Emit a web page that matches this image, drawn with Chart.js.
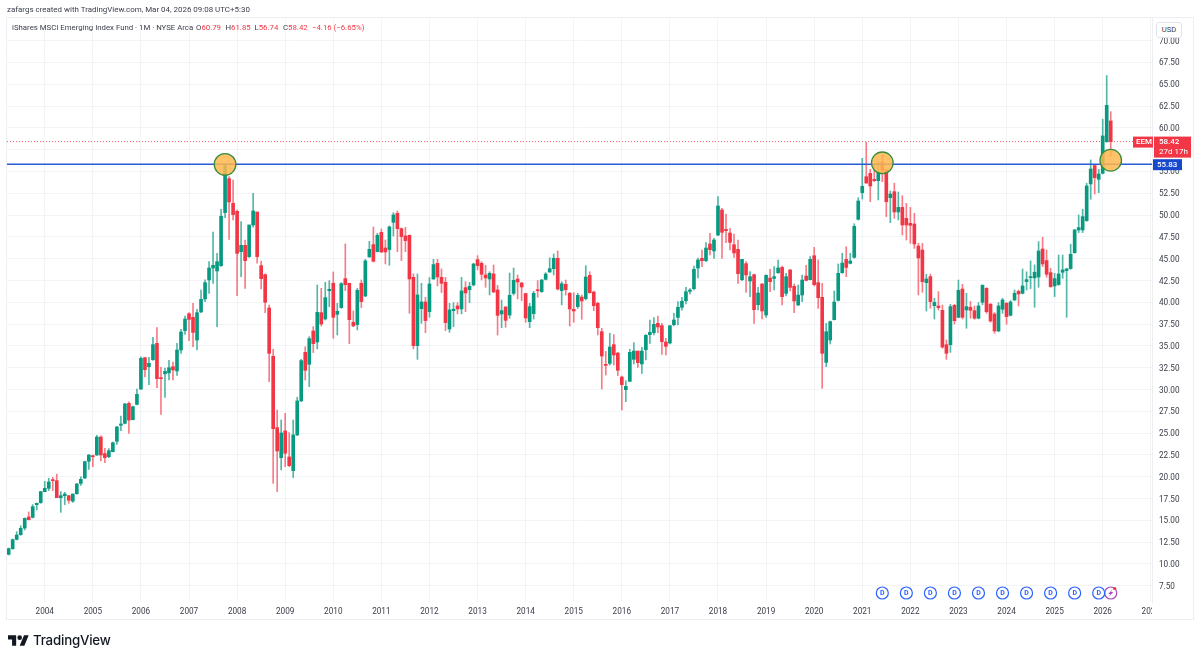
<!DOCTYPE html>
<html>
<head>
<meta charset="utf-8">
<title>EEM monthly</title>
<script src="https://cdn.jsdelivr.net/npm/chart.js@4"></script>
<style>
    html, body { margin: 0; padding: 0; background: #fff; }
    body { width: 1200px; height: 659px; position: relative; overflow: hidden; font-family: Roboto, sans-serif; color: #131722; }
    canvas { position: absolute; left: 0; top: 0; }
    .txt { position: absolute; white-space: nowrap; }
    #credit { left: 7px; top: 4px; font-size: 7.95px; line-height: 11px; color: #3a3e49; }
    #legend span { position: absolute; top: 22px; font-size: 7.8px; line-height: 11px; white-space: nowrap; color: #3a3e49; }
    #legend b { font-weight: 400; color: #f23645; }
    #frame { position: absolute; left: 6px; top: 17px; width: 1186px; height: 601px; border: 1px solid #eceef2; }
    #axisClip { position: absolute; left: 1152px; top: 603px; width: 39px; height: 15px; background: #fff; }
    #usd { position: absolute; left: 1156px; top: 22px; width: 24px; height: 14px; line-height: 14px; border: 1px solid #e0e3eb; border-radius: 3px; font-size: 7.6px; text-align: center; background: #fff; color: #3a3e49; }
    #logo { position: absolute; left: 8px; top: 633px; width: 21px; height: 14px; }
    #brand { left: 33px; top: 630px; font-family: Inter, sans-serif; font-size: 13.3px; line-height: 20px; font-weight: 500; color: #131722; letter-spacing: -0.2px; }
</style>
</head>
<body>
<div id="frame"></div>
<canvas id="chart" width="1200" height="659"></canvas>
<div id="axisClip"></div>
<div id="usd">USD</div>
<div id="credit" class="txt">zafargs created with TradingView.com, Mar 04, 2026 09:08 UTC+5:30</div>
<div id="legend">
    <span style="left:12px">iShares MSCI Emerging Index Fund · 1M · NYSE Arca</span>
    <span style="left:196px">O<b>60.79</b></span>
    <span style="left:225.5px">H<b>61.85</b></span>
    <span style="left:254.5px">L<b>56.74</b></span>
    <span style="left:283px">C<b>58.42</b></span>
    <span style="left:312px"><b>−4.16 (−6.65%)</b></span>
</div>
<svg id="logo" viewBox="0 0 36 24"><path fill="#131722" d="M14 22H7V11H0V4h14v18zM28 22h-8l7.5-18h8L28 22z"/><circle fill="#131722" cx="20" cy="8" r="4"/></svg>
<div id="brand" class="txt">TradingView</div>

<script>
// monthly candles, Apr 2003 to Mar 2026, one row per calendar year
const opens = [
    11.10,11.76,12.82,13.36,14.12,15.39,15.35,16.80,17.03,
    18.29,18.67,19.60,19.55,17.60,17.83,17.83,17.20,18.06,19.24,19.86,21.77,
    22.41,22.49,24.55,22.65,22.30,22.87,24.06,25.90,26.12,28.41,26.54,28.30,
    30.06,33.65,32.62,33.42,35.29,31.35,31.80,31.90,32.62,32.12,34.53,36.74,
    38.69,38.27,35.67,38.89,40.38,42.56,43.93,43.59,44.20,50.28,54.17,51.35,
    50.43,45.80,46.53,45.23,48.86,50.35,44.20,43.17,39.35,33.81,25.63,22.19,
    25.25,22.27,20.70,24.79,28.69,34.26,32.89,36.71,35.45,38.81,38.09,41.33,
    42.18,38.62,39.39,42.71,42.18,37.71,37.44,42.18,40.72,45.20,46.61,45.81,
    48.02,46.23,46.04,49.17,50.20,48.44,47.60,47.68,42.86,35.03,39.27,40.04,
    38.93,42.67,44.47,42.86,42.29,36.94,39.04,39.58,39.24,41.68,41.45,41.99,
    44.89,44.47,43.13,42.67,43.25,41.41,38.66,39.46,38.54,41.02,42.67,42.21,
    41.00,37.78,38.70,41.41,41.22,42.63,43.47,43.85,45.04,41.33,42.06,41.03,
    39.19,39.50,40.60,40.42,43.09,41.18,39.88,36.63,32.85,32.99,35.14,34.18,
    31.43,29.98,30.94,33.46,34.41,32.93,34.57,36.29,36.52,37.59,37.32,35.45,
    35.33,37.43,38.27,39.42,40.18,41.25,41.56,43.93,45.04,44.77,46.68,45.88,
    47.71,50.58,48.36,47.94,46.60,46.07,42.59,44.43,42.44,43.16,39.72,42.09,
    38.54,42.78,42.74,43.39,44.00,41.02,43.70,41.83,39.69,40.83,43.01,42.59,
    45.34,42.25,40.57,33.11,35.67,38.01,40.22,43.39,44.92,44.46,45.15,49.51,
    52.57,54.40,54.78,54.09,53.94,56.08,55.16,51.99,52.68,50.35,50.88,49.62,
    49.05,48.97,46.45,45.99,42.25,42.94,39.61,39.57,39.08,35.14,35.14,39.65,
    38.27,41.52,39.12,39.43,39.04,38.17,40.00,41.60,39.77,38.66,36.71,39.20,
    39.88,38.51,40.27,41.26,41.03,42.37,42.83,42.79,42.90,46.11,44.78,43.40,
    41.87,42.03,43.44,43.63,43.86,45.69,48.29,48.29,49.36,53.57,55.67,54.10,
    54.79,58.42,60.79
];
const highs = [
    11.83,12.86,13.70,14.39,15.27,15.96,16.80,17.00,18.33,
    19.47,19.82,19.93,20.30,18.29,18.21,17.83,18.02,19.24,20.00,21.80,22.53,
    22.49,24.75,24.70,23.26,23.22,23.98,25.78,26.96,28.41,28.60,28.10,30.06,
    33.76,33.69,33.69,35.98,37.09,32.54,32.46,33.34,33.15,35.29,36.90,38.43,
    38.81,39.88,39.19,41.41,42.56,44.66,48.06,45.60,50.66,55.93,54.40,54.00,
    50.58,49.24,47.14,48.86,52.49,50.35,44.73,43.25,39.69,34.61,27.65,26.51,
    27.27,25.06,26.51,29.11,33.46,34.90,36.06,37.21,41.99,41.60,42.29,42.48,
    43.48,39.88,42.25,46.69,42.18,39.00,41.60,42.56,44.93,46.99,48.63,47.91,
    48.40,47.15,48.75,50.28,50.47,48.52,48.60,47.72,43.25,43.25,42.18,40.57,
    42.83,44.93,44.93,43.82,42.86,39.88,39.96,39.96,42.86,42.37,42.29,44.47,
    45.35,44.66,44.24,43.51,44.28,41.95,40.26,39.50,43.36,43.93,43.13,42.29,
    41.03,39.88,41.26,42.48,42.63,43.40,45.10,45.54,45.88,42.36,42.55,41.14,
    41.10,41.03,40.83,44.20,43.50,41.29,40.00,37.01,34.37,36.44,36.29,34.26,
    31.55,31.01,34.61,35.37,34.41,34.84,36.29,37.97,38.24,38.43,37.59,35.87,
    37.32,38.73,40.07,40.57,41.71,41.56,44.16,45.07,45.99,46.83,47.90,47.33,
    52.11,50.77,50.12,48.48,47.83,47.14,44.92,44.66,43.51,43.24,41.71,42.17,
    43.16,43.78,44.08,44.85,44.16,43.32,43.78,42.09,41.98,43.13,44.23,45.23,
    46.30,44.85,42.17,37.58,37.85,41.29,44.39,45.61,46.37,45.61,49.00,51.99,
    56.50,58.34,55.24,55.93,56.08,56.88,55.24,52.76,53.64,52.64,52.22,51.34,
    50.88,50.20,46.76,46.76,43.20,43.24,40.45,41.22,39.69,35.68,39.76,39.76,
    42.55,42.06,41.03,40.08,39.58,39.96,42.00,41.68,39.88,38.81,39.96,40.46,
    39.99,40.19,41.41,41.41,43.82,43.50,44.74,44.28,46.95,47.45,46.00,43.90,
    43.33,45.42,45.42,43.90,46.65,48.37,50.01,50.66,53.64,56.32,55.74,55.25,
    60.98,65.98,61.85
];
const lows = [
    11.03,11.68,12.75,13.28,13.90,15.04,15.27,16.19,16.95,
    18.29,18.40,18.40,17.60,15.92,16.80,16.95,17.06,17.98,19.00,19.78,20.85,
    21.15,22.45,21.80,21.61,22.19,22.84,23.71,25.28,26.05,24.98,26.50,28.22,
    29.98,31.43,30.55,33.34,30.21,27.15,29.10,31.09,31.09,31.62,34.15,36.32,
    35.60,34.91,34.53,38.81,40.07,41.03,42.17,37.21,44.12,49.70,47.20,49.44,
    40.76,42.94,41.60,45.15,48.60,44.47,41.53,38.81,30.90,19.25,18.30,20.78,
    21.16,21.16,19.90,24.71,28.61,31.09,30.33,34.23,34.65,37.28,37.97,39.50,
    35.87,36.25,39.31,41.34,35.26,37.21,36.83,39.39,40.65,45.16,44.62,45.77,
    45.69,44.39,44.24,47.60,45.80,44.78,45.80,38.74,34.65,33.46,37.59,36.52,
    38.28,42.64,41.87,41.11,36.75,36.56,37.21,38.66,38.66,38.93,39.96,41.87,
    43.71,42.56,41.72,40.84,41.11,36.25,37.09,37.13,38.16,40.83,40.38,40.19,
    37.70,37.09,38.08,40.57,41.14,42.55,43.43,43.13,41.41,39.69,40.83,37.28,
    37.70,39.30,38.05,40.26,41.03,39.04,36.25,30.06,31.66,32.81,32.81,31.59,
    27.65,28.61,30.90,32.93,32.54,31.85,33.38,35.29,36.25,36.52,34.03,33.96,
    35.22,37.32,37.40,39.10,39.80,40.95,41.41,42.78,44.08,44.65,45.42,45.04,
    47.64,45.04,46.83,45.99,45.15,42.17,42.48,41.14,40.64,37.59,39.11,38.08,
    38.27,41.21,41.41,43.32,39.69,40.72,41.29,38.81,39.61,40.07,42.44,42.55,
    41.87,39.30,30.13,32.62,35.22,37.97,40.14,43.32,42.93,44.39,45.04,49.43,
    51.84,53.64,51.53,53.83,51.73,53.83,49.82,49.13,49.62,49.43,47.71,47.14,
    46.76,46.18,40.84,41.14,39.00,39.31,38.08,39.11,34.72,33.46,34.26,37.51,
    38.24,38.08,37.02,38.17,38.05,38.09,39.70,38.74,37.71,36.45,36.64,38.74,
    37.48,38.43,40.19,39.58,40.96,41.41,41.57,39.43,41.72,44.09,42.87,41.72,
    40.65,41.95,42.75,38.28,43.78,45.62,47.99,47.99,49.28,51.81,52.42,52.57,
    54.71,58.34,56.74
];
const closes = [
    11.76,12.79,13.32,14.09,15.23,15.08,16.57,16.95,18.29,
    18.67,19.40,19.55,17.60,17.83,18.02,17.30,18.02,19.17,19.70,21.73,22.49,
    22.30,24.55,22.49,22.19,22.99,23.90,25.70,26.05,28.34,26.50,28.03,29.45,
    33.57,32.27,33.00,35.14,31.24,31.24,32.08,32.50,32.24,34.53,36.59,38.08,
    38.04,36.55,38.81,40.34,42.25,43.93,44.24,44.66,49.86,55.66,51.50,50.05,
    45.61,46.53,44.77,48.86,50.47,45.23,42.71,40.00,34.15,25.51,22.95,25.02,
    22.69,21.27,24.79,28.69,33.31,32.20,35.83,35.26,38.85,37.51,40.53,41.49,
    38.28,38.97,42.14,42.02,38.01,37.29,41.37,40.08,44.74,46.07,44.70,47.68,
    45.77,45.77,48.64,50.01,48.44,47.53,47.07,42.67,35.03,40.84,40.04,37.90,
    42.10,44.32,42.90,42.18,37.67,39.12,39.20,39.24,41.30,41.07,41.83,44.39,
    44.20,43.21,42.79,43.32,41.18,38.50,39.04,37.93,40.80,42.52,42.33,41.75,
    38.20,39.50,41.03,41.33,42.55,43.24,43.85,45.04,41.52,42.13,41.45,39.23,
    39.00,40.80,40.15,42.90,41.10,39.61,37.09,33.84,32.77,34.87,33.96,32.20,
    30.56,30.36,34.26,34.41,33.08,34.41,36.21,36.56,37.47,37.17,35.49,34.95,
    37.32,37.97,39.42,40.11,41.21,41.41,43.78,44.85,44.77,46.22,46.03,47.14,
    51.04,48.02,48.21,46.87,45.65,43.28,44.92,43.13,42.94,39.15,41.06,39.00,
    43.09,42.36,42.94,43.93,40.64,42.94,41.71,40.15,40.83,42.55,42.51,44.92,
    42.02,40.53,34.15,36.63,37.78,40.03,43.32,44.50,44.00,44.73,48.71,51.61,
    53.29,53.67,53.33,53.94,54.90,55.16,51.53,52.41,50.35,50.88,48.86,48.86,
    48.82,46.68,45.08,42.36,42.67,40.07,39.99,39.38,34.87,34.15,39.50,37.89,
    41.37,38.28,39.50,39.08,38.17,39.58,41.95,38.93,37.86,36.71,39.58,40.27,
    38.36,40.04,41.03,40.96,41.87,42.60,42.94,43.44,45.88,44.39,43.21,41.80,
    42.71,43.25,43.71,43.82,45.50,48.29,48.56,49.82,53.34,55.28,54.29,54.71,
    59.07,62.58,58.42
];

// x axis: months counted from the first candle
const yearLabels = ['2004','2005','2006','2007','2008','2009','2010','2011','2012','2013','2014','2015',
    '2016','2017','2018','2019','2020','2021','2022','2023','2024','2025','2026','2027'];
const yearMonths = [9,21,33,45,57,69,81,93,105,117,129,141,153,165,177,189,201,213,225,237,249,261,273,285];

// y axis
const priceTicks = [7.5,10,12.5,15,17.5,20,22.5,25,27.5,30,32.5,35,37.5,40,42.5,45,47.5,50,52.5,55,57.5,60,62.5,65,67.5,70];

// drawn levels and markers
const supportLevel = 55.83;
const lastPrice = 58.42;
const circleMonths = [54, 218, 275];
const circleValues = [55.80, 55.99, 56.28];
const dividendMonths = [218,224,230,236,242,248,254,260,266,272];
const eventMonths = [275];
const iconValue = 6.67;

const xMin = -0.42;
const xMax = 285.3;
const green = '#089981';
const red = '#f23645';

const isUp = (i) => closes[i] >= opens[i];
const hline = (value) => [{ x: xMin, y: value }, { x: xMax, y: value }];

const overlays = {
    id: 'overlays',
    afterDatasetsDraw(chart) {
        const { ctx, scales } = chart;

        // letters inside the dividend icons
        ctx.save();
        ctx.font = '700 7px Roboto';
        ctx.fillStyle = '#2962ff';
        ctx.textAlign = 'center';
        ctx.textBaseline = 'middle';
        const iconY = scales.y.getPixelForValue(iconValue);
        dividendMonths.forEach((m) => {
            ctx.fillText('D', scales.x.getPixelForValue(m), iconY + 0.5);
        });

        // earnings bolt and red dot
        const bx = scales.x.getPixelForValue(eventMonths[0]);
        ctx.fillStyle = '#ab47bc';
        ctx.beginPath();
        ctx.moveTo(bx + 2, iconY - 4);
        ctx.lineTo(bx - 2.5, iconY + 1);
        ctx.lineTo(bx - 0.3, iconY + 1);
        ctx.lineTo(bx - 2, iconY + 4);
        ctx.lineTo(bx + 2.5, iconY - 1);
        ctx.lineTo(bx + 0.3, iconY - 1);
        ctx.closePath();
        ctx.fill();
        ctx.fillStyle = red;
        ctx.beginPath();
        ctx.arc(bx + 4, iconY - 4.5, 1.6, 0, Math.PI * 2);
        ctx.fill();
        ctx.restore();
    },
    afterDraw(chart) {
        const { ctx, scales } = chart;
        const lastY = scales.y.getPixelForValue(lastPrice);
        const supY = scales.y.getPixelForValue(supportLevel);
        ctx.save();
        ctx.textBaseline = 'middle';
        ctx.textAlign = 'left';

        ctx.fillStyle = red;
        ctx.fillRect(1133, lastY - 5, 20, 11);
        ctx.fillRect(1154, lastY - 5, 37, 21);
        ctx.fillStyle = '#fff';
        ctx.font = '500 8px Roboto';
        ctx.fillText('EEM', 1136, lastY + 0.5);
        ctx.fillText('58.42', 1159, lastY + 0.5);
        ctx.font = '400 8px Roboto';
        ctx.fillText('27d 17h', 1159, lastY + 10);

        ctx.fillStyle = '#1848cc';
        ctx.fillRect(1153, supY - 5, 29, 11);
        ctx.fillStyle = '#fff';
        ctx.font = '500 8px Roboto';
        ctx.fillText('55.83', 1157, supY + 0.5);
        ctx.restore();
    }
};

new Chart(document.getElementById('chart'), {
    data: {
        datasets: [
            {
                type: 'line',
                data: hline(lastPrice),
                borderColor: 'rgba(242,54,69,0.8)',
                borderWidth: 1,
                borderDash: [1, 2],
                pointRadius: 0,
                order: 5
            },
            {
                type: 'bar',
                data: highs.map((h, i) => ({ x: i, y: [lows[i], h] })),
                backgroundColor: (c) => isUp(c.dataIndex) ? 'rgba(8,153,129,0.7)' : 'rgba(242,54,69,0.65)',
                barThickness: 1,
                grouped: false,
                order: 4
            },
            {
                type: 'bar',
                data: opens.map((o, i) => ({ x: i, y: [o, closes[i]] })),
                backgroundColor: (c) => isUp(c.dataIndex) ? green : red,
                barThickness: 3,
                minBarLength: 1,
                grouped: false,
                order: 3
            },
            {
                type: 'line',
                data: hline(supportLevel),
                borderColor: '#2a5bd7',
                borderWidth: 1.6,
                pointRadius: 0,
                order: 2
            },
            {
                type: 'line',
                data: circleMonths.map((m, i) => ({ x: m, y: circleValues[i] })),
                showLine: false,
                pointRadius: 10.8,
                pointBackgroundColor: 'rgba(255,183,77,0.85)',
                pointBorderColor: '#388e3c',
                pointBorderWidth: 1.3,
                order: 1
            },
            {
                type: 'line',
                data: dividendMonths.map((m) => ({ x: m, y: iconValue })),
                showLine: false,
                pointRadius: 6,
                pointBackgroundColor: '#fff',
                pointBorderColor: '#2962ff',
                pointBorderWidth: 1.2,
                order: 1
            },
            {
                type: 'line',
                data: eventMonths.map((m) => ({ x: m, y: iconValue })),
                showLine: false,
                pointRadius: 6,
                pointBackgroundColor: '#fff',
                pointBorderColor: '#ab47bc',
                pointBorderWidth: 1.2,
                order: 1
            }
        ]
    },
    options: {
        responsive: false,
        animation: false,
        events: [],
        layout: { autoPadding: false, padding: { left: 7, top: 18, right: 0, bottom: 0 } },
        plugins: { legend: { display: false }, tooltip: { enabled: false } },
        scales: {
            x: {
                type: 'linear',
                offset: false,
                min: xMin,
                max: xMax,
                afterBuildTicks: (axis) => { axis.ticks = yearMonths.map((m) => ({ value: m })); },
                // the first year label sits far from the edge, so no room is needed for it
                afterFit: (axis) => { axis.height = 57; axis.paddingLeft = 0; axis.paddingRight = 0; },
                grid: { color: '#f3f4f7', drawTicks: false, offset: false },
                border: { display: false },
                ticks: {
                    autoSkip: false,
                    maxRotation: 0,
                    padding: 5,
                    color: '#3a3e49',
                    font: { family: 'Roboto', size: 8.2 },
                    callback: (v) => yearLabels[yearMonths.indexOf(v)]
                }
            },
            y: {
                position: 'right',
                min: 5.64,
                max: 72.59,
                afterBuildTicks: (axis) => { axis.ticks = priceTicks.map((p) => ({ value: p })); },
                afterFit: (axis) => { axis.width = 48; },
                grid: { color: '#f3f4f7', drawTicks: false },
                border: { color: '#eceef2' },
                ticks: {
                    autoSkip: false,
                    padding: 7,
                    align: 'center',
                    crossAlign: 'near',
                    labelOffset: 1,
                    color: '#3a3e49',
                    font: { family: 'Roboto', size: 8.2 },
                    callback: (v) => v.toFixed(2)
                }
            }
        }
    },
    plugins: [overlays]
});
</script>
</body>
</html>
